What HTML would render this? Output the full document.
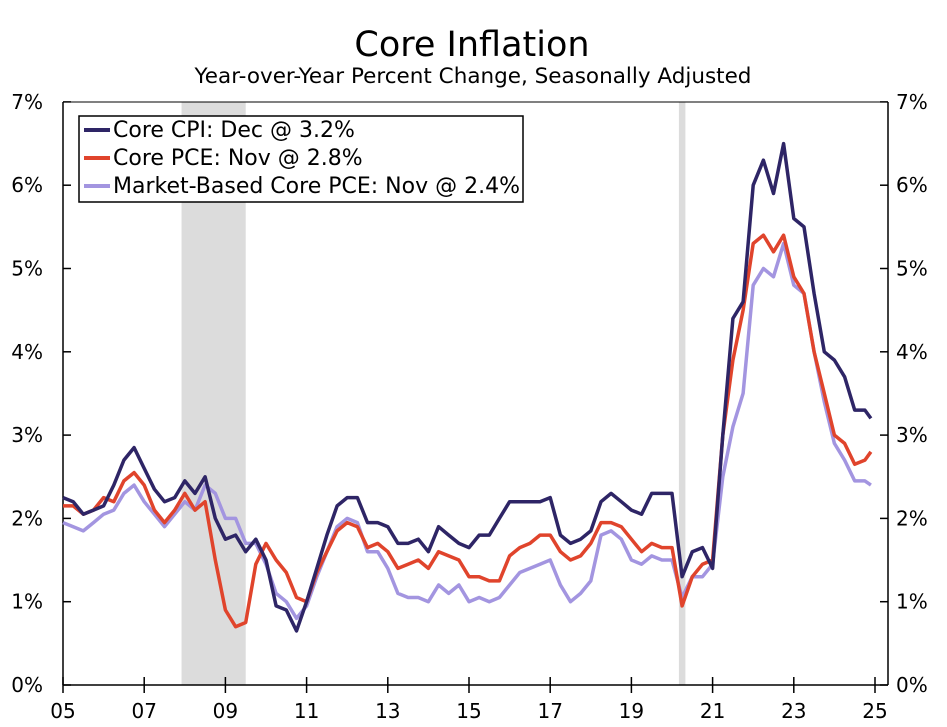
<!DOCTYPE html>
<html><head><meta charset="utf-8"><style>
body{margin:0;background:#fff;}
svg{display:block;font-family:"DejaVu Sans","Liberation Sans",sans-serif;}
</style></head><body>
<svg id="chart" width="947" height="727">
<text x="472" y="56" text-anchor="middle" font-size="35">Core Inflation</text>
<text x="473" y="83" text-anchor="middle" font-size="21.5">Year-over-Year Percent Change, Seasonally Adjusted</text>
<g id="rec"></g><g id="axes"></g><g id="series"></g>
<g>
<rect x="79" y="116" width="444" height="86" fill="#fff" stroke="#000" stroke-width="1.5"/>
<line x1="84" y1="130" x2="110" y2="130" stroke="#2e2566" stroke-width="4"/>
<text x="113" y="137" font-size="22">Core CPI: Dec @ 3.2%</text>
<line x1="84" y1="158" x2="110" y2="158" stroke="#e0442c" stroke-width="4"/>
<text x="113" y="165" font-size="22">Core PCE: Nov @ 2.8%</text>
<line x1="84" y1="186" x2="110" y2="186" stroke="#a395e0" stroke-width="4"/>
<text x="113" y="193" font-size="22">Market-Based Core PCE: Nov @ 2.4%</text>
</g>
</svg>
<script>
const cpi=[2.25,2.2,2.05,2.1,2.15,2.4,2.7,2.85,2.6,2.35,2.2,2.25,2.45,2.3,2.5,2.0,1.75,1.8,1.6,1.75,1.5,0.95,0.9,0.65,1.0,1.4,1.8,2.15,2.25,2.25,1.95,1.95,1.9,1.7,1.7,1.75,1.6,1.9,1.8,1.7,1.65,1.8,1.8,2.0,2.2,2.2,2.2,2.2,2.25,1.8,1.7,1.75,1.85,2.2,2.3,2.2,2.1,2.05,2.3,2.3,2.3,1.3,1.6,1.65,1.4,3.0,4.4,4.6,6.0,6.3,5.9,6.5,5.6,5.5,4.7,4.0,3.9,3.7,3.3,3.3,3.2];
const pce=[2.15,2.15,2.05,2.1,2.25,2.2,2.45,2.55,2.4,2.1,1.95,2.1,2.3,2.1,2.2,1.5,0.9,0.7,0.75,1.45,1.7,1.5,1.35,1.05,1.0,1.35,1.6,1.85,1.95,1.9,1.65,1.7,1.6,1.4,1.45,1.5,1.4,1.6,1.55,1.5,1.3,1.3,1.25,1.25,1.55,1.65,1.7,1.8,1.8,1.6,1.5,1.55,1.7,1.95,1.95,1.9,1.75,1.6,1.7,1.65,1.65,0.95,1.3,1.45,1.5,3.0,3.9,4.5,5.3,5.4,5.2,5.4,4.9,4.7,4.0,3.5,3.0,2.9,2.65,2.7,2.8];
const mkt=[1.95,1.9,1.85,1.95,2.05,2.1,2.3,2.4,2.2,2.05,1.9,2.05,2.2,2.1,2.4,2.3,2.0,2.0,1.7,1.7,1.45,1.1,1.0,0.8,0.95,1.3,1.6,1.9,2.0,1.95,1.6,1.6,1.4,1.1,1.05,1.05,1.0,1.2,1.1,1.2,1.0,1.05,1.0,1.05,1.2,1.35,1.4,1.45,1.5,1.2,1.0,1.1,1.25,1.8,1.85,1.75,1.5,1.45,1.55,1.5,1.5,1.05,1.3,1.3,1.45,2.5,3.1,3.5,4.8,5.0,4.9,5.3,4.8,4.7,4.0,3.4,2.9,2.7,2.45,2.45,2.4];
const yTicks=[0,1,2,3,4,5,6,7];
const xTicks=[2005,2007,2009,2011,2013,2015,2017,2019,2021,2023,2025];
const recessions=[[2007.92,2009.5],[2020.17,2020.33]];
const dates=[];for(let i=0;i<80;i++)dates.push(2005+i*0.25);dates.push(2024.9);
const X=t=>63+(t-2005)*40.6, Y=v=>685-v*83.3;
const NS="http://www.w3.org/2000/svg";
function mk(tag,attrs,parent){const e=document.createElementNS(NS,tag);for(const k in attrs)e.setAttribute(k,attrs[k]);parent.appendChild(e);return e;}
const rec=document.getElementById('rec'),ax=document.getElementById('axes'),sg=document.getElementById('series');
recessions.forEach(r=>{const e=mk('rect',{x:X(r[0]),y:102,width:X(r[1])-X(r[0]),height:583,fill:'#dcdcdc'},rec);

});
mk('line',{x1:63,y1:102,x2:63,y2:685,stroke:'#000','stroke-width':1.5},ax);
mk('line',{x1:888,y1:102,x2:888,y2:685,stroke:'#000','stroke-width':1.5},ax);
mk('line',{x1:63,y1:685,x2:888,y2:685,stroke:'#000','stroke-width':1.5},ax);
mk('line',{x1:63,y1:102,x2:888,y2:102,stroke:'#000','stroke-width':1},ax);
yTicks.forEach(v=>{const y=Y(v);
mk('line',{x1:63,y1:y,x2:71,y2:y,stroke:'#000','stroke-width':1.5},ax);
mk('line',{x1:880,y1:y,x2:888,y2:y,stroke:'#000','stroke-width':1.5},ax);
const l=mk('text',{x:43,y:y+7,'text-anchor':'end','font-size':20},ax);l.textContent=v+'%';


const r=mk('text',{x:896,y:y+7,'font-size':20},ax);r.textContent=v+'%';

});
xTicks.forEach(t=>{const x=X(t);
mk('line',{x1:x,y1:677,x2:x,y2:693,stroke:'#000','stroke-width':1.5},ax);
const l=mk('text',{x:x,y:718,'text-anchor':'middle','font-size':20},ax);l.textContent=String(t%100).padStart(2,'0');

});
function line(vals,color,name){const d=vals.map((v,i)=>(i?'L':'M')+X(dates[i]).toFixed(1)+','+Y(v).toFixed(1)).join('');
const p=mk('path',{d:d,fill:'none',stroke:color,'stroke-width':3.5,'stroke-linejoin':'round'},sg);

}
line(mkt,'#a395e0','market-based-core-pce-line');
line(pce,'#e0442c','core-pce-line');
line(cpi,'#2e2566','core-cpi-line');
</script>
</body></html>
